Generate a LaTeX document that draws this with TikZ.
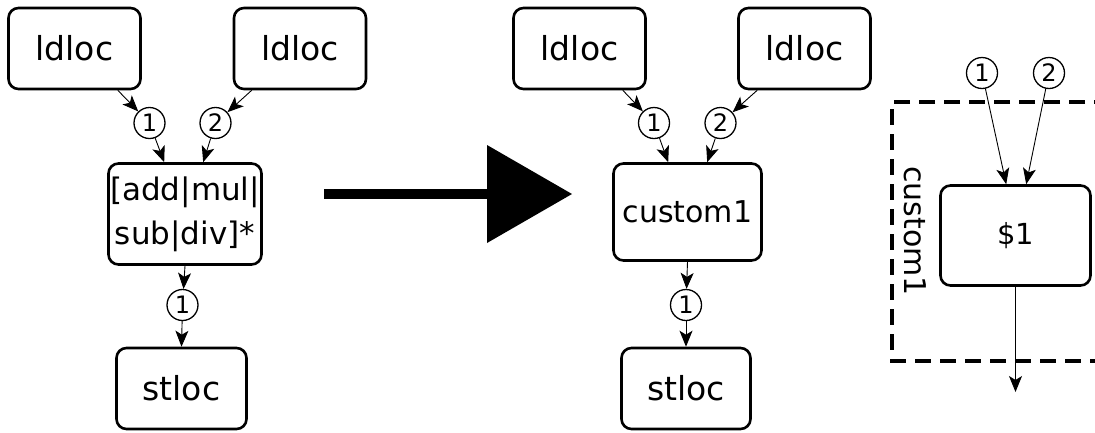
\documentclass[tikz,border=0pt]{standalone}
\usepackage{fontspec}
\setmainfont{DejaVu Sans}
\usetikzlibrary{arrows.meta,calc}

\tikzset{
  opbox/.style={draw, line width=2.6pt, rounded corners=10pt, inner sep=0pt,
                minimum width=132pt, minimum height=81pt, align=center,
                font=\fontsize{33}{40}\selectfont},
  portnum/.style={draw, circle, line width=1.3pt, inner sep=0pt,
                  minimum size=31pt, font=\fontsize{24}{24}\selectfont},
  edge/.style={line width=0.9pt, -{Stealth[length=16pt, width=13pt, inset=4pt]}},
  groupframe/.style={line width=3.5pt, dash pattern=on 16pt off 9pt},
}

\begin{document}
\begin{tikzpicture}[x=1pt, y=-1pt]
  \useasboundingbox (0,0) rectangle (1095,432);

  % ---- original pattern ----
  \node[opbox] (la) at (74.5,48.5) {ldloc};
  \node[opbox] (lb) at (300,48.5) {ldloc};
  \node[portnum] (lc1) at (149.5,123) {1};
  \node[portnum] (lc2) at (215.5,123) {2};
  \node[opbox, minimum width=153pt, minimum height=101pt,
        font=\fontsize{31}{44}\selectfont] (lop) at (185,214) {[add|mul|\\sub|div]*};
  \node[portnum] (lc3) at (182.5,305) {1};
  \node[opbox, minimum width=130pt] (lst) at (181.5,388.5) {stloc};

  \draw[edge] ([xshift=-24pt]la.south east) -- (lc1);
  \draw[edge] ([xshift=19pt]lb.south west) -- (lc2);
  \draw[edge] (lc1) -- ([xshift=57pt]lop.north west);
  \draw[edge] (lc2) -- ([xshift=96pt]lop.north west);
  \draw[edge] (lop.south) -- (lc3);
  \draw[edge] (lc3) -- (lst.north);

  % ---- transformation arrow ----
  \fill (324,189) rectangle (488,199);
  \fill (487,145) -- (572,194) -- (487,243) -- cycle;

  % ---- rewritten pattern ----
  \node[opbox] (ma) at (579.5,48.5) {ldloc};
  \node[opbox] (mb) at (804.5,48.5) {ldloc};
  \node[portnum] (mc1) at (654,123) {1};
  \node[portnum] (mc2) at (720.5,123) {2};
  \node[opbox, minimum width=148pt, minimum height=97pt,
        font=\fontsize{30}{36}\selectfont] (mop) at (687.5,212) {custom1};
  \node[portnum] (mc3) at (686,305) {1};
  \node[opbox, minimum width=129pt] (mst) at (686,388.5) {stloc};

  \draw[edge] ([xshift=-24pt]ma.south east) -- (mc1);
  \draw[edge] ([xshift=20pt]mb.south west) -- (mc2);
  \draw[edge] (mc1) -- ([xshift=56pt]mop.north west);
  \draw[edge] (mc2) -- ([xshift=95pt]mop.north west);
  \draw[edge] (mop.south) -- (mc3);
  \draw[edge] (mc3) -- (mst.north);

  % ---- definition of custom1 ----
  \draw[groupframe] (1110,102) -- (892,102) -- (892,361) -- (1110,361);
  \node[rotate=-90, font=\fontsize{30}{36}\selectfont] (glabel) at (915,231) {custom1};
  \node[portnum] (rc1) at (982,73) {1};
  \node[portnum] (rc2) at (1049,73) {2};
  \node[opbox, minimum width=150pt, minimum height=100pt,
        font=\fontsize{29}{36}\selectfont] (rop) at (1015.5,235.5) {\$1};
  \coordinate (rout) at (1015.5,392);

  \draw[edge] (rc1) -- ([xshift=67pt]rop.north west);
  \draw[edge] (rc2) -- ([xshift=87pt]rop.north west);
  \draw[edge] (rop.south) -- (rout);
\end{tikzpicture}
\end{document}
